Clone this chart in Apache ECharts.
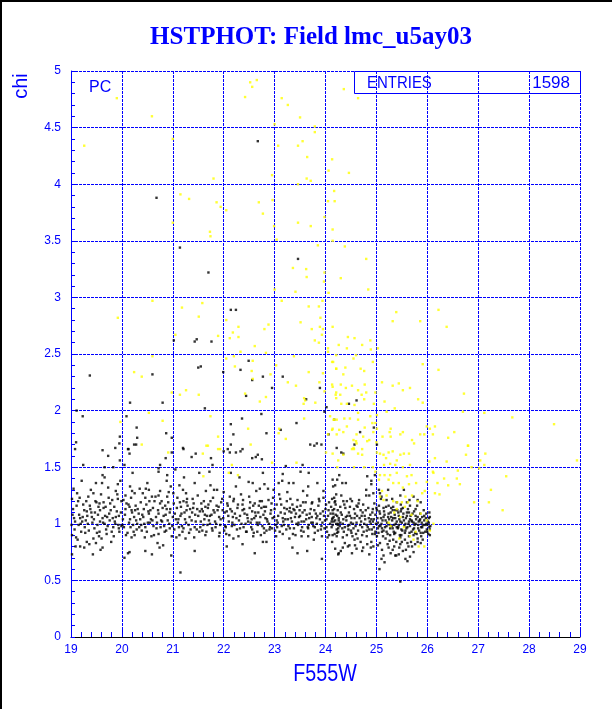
<!DOCTYPE html>
<html>
<head>
<meta charset="utf-8">
<script src="https://cdn.jsdelivr.net/npm/echarts/dist/echarts.min.js"></script>
<style>
html,body{margin:0;padding:0;background:#fff;}
#chart{width:612px;height:709px;}
</style>
</head>
<body>
<div id="chart"></div>
<script>
// ---- Data (F555W magnitude, chi) ----
const titleText = 'HSTPHOT: Field lmc_u5ay03';
const xName = 'F555W';
const yName = 'chi';
const entriesLabel = 'ENTRIES';
const entriesValue = '1598';
const xTicks = [19, 20, 21, 22, 23, 24, 25, 26, 27, 28, 29];
const yTicks = [0, 0.5, 1, 1.5, 2, 2.5, 3, 3.5, 4, 4.5, 5];

const blackBand = [
[19.62,1.43],[19.66,1.41],[20.21,1.45],[20.72,1.46],[20.89,1.43],[21.05,1.48],[21.22,1.41],[21.52,1.45],[21.72,1.46],[22.14,1.45],[22.31,1.41],[22.77,1.45],[23.16,1.44],[23.67,1.45],[23.51,1.46],
[19.39,1.30],[19.49,1.36],[19.61,1.36],[19.73,1.32],[19.88,1.29],[19.92,1.35],[20.16,1.33],[20.20,1.29],[20.41,1.27],[20.50,1.36],[20.53,1.30],[20.75,1.29],[20.88,1.38],[21.13,1.34],[21.26,1.27],[21.43,1.36],[21.74,1.34],[21.81,1.30],[22.24,1.33],[22.49,1.37],[22.57,1.36],[22.71,1.31],[22.80,1.35],[22.98,1.30],[23.08,1.36],[23.15,1.38],[23.28,1.36],[23.37,1.36],[23.56,1.29],[23.66,1.33],[23.84,1.36],[23.96,1.29],[24.15,1.33],[24.23,1.39],
[19.02,1.22],[19.14,1.20],[19.26,1.12],[19.37,1.16],[19.50,1.19],[19.56,1.18],[19.64,1.14],[19.77,1.18],[19.92,1.22],[19.99,1.20],[20.07,1.25],[20.15,1.15],[20.26,1.12],[20.46,1.23],[20.59,1.24],[20.72,1.25],[20.75,1.18],[20.89,1.24],[21.01,1.27],[21.14,1.19],[21.21,1.20],[21.27,1.19],[21.40,1.14],[21.57,1.13],[21.64,1.15],[21.74,1.20],[21.86,1.16],[21.97,1.22],[22.08,1.16],[22.19,1.20],[22.37,1.17],[22.52,1.19],[22.61,1.18],[22.71,1.20],[22.79,1.15],[22.94,1.18],[23.11,1.22],[23.24,1.20],[23.30,1.14],[23.37,1.13],[23.49,1.12],[23.56,1.19],[23.73,1.18],[23.87,1.22],[24.01,1.17],[24.13,1.22],[24.19,1.20],
[19.06,1.05],[19.18,1.05],[19.31,1.11],[19.41,1.06],[19.45,1.04],[19.57,1.12],[19.62,1.05],[19.71,1.06],[19.82,1.05],[19.88,1.06],[20.07,1.13],[20.19,1.12],[20.24,1.06],[20.36,1.04],[20.43,1.13],[20.53,1.09],[20.60,1.03],[20.72,1.09],[20.88,1.13],[20.94,1.10],[21.06,1.04],[21.15,1.07],[21.27,1.12],[21.38,1.10],[21.48,1.13],[21.59,1.11],[21.67,1.07],[21.80,1.12],[21.91,1.06],[22.02,1.10],[22.16,1.11],[22.25,1.05],[22.37,1.12],[22.46,1.08],[22.56,1.11],[22.63,1.07],[22.74,1.14],[22.82,1.05],[22.92,1.09],[23.04,1.03],[23.16,1.05],[23.24,1.13],[23.33,1.10],[23.39,1.12],[23.50,1.07],[23.63,1.08],[23.73,1.06],[23.84,1.07],[23.97,1.07],[24.06,1.12],[24.14,1.05],[24.26,1.03],
[19.01,0.99],[19.15,0.99],[19.22,1.02],[19.33,1.00],[19.52,0.99],[19.66,1.00],[19.83,0.97],[19.94,0.96],[19.99,0.98],[20.17,0.97],[20.30,1.00],[20.46,0.97],[20.55,1.01],[20.68,0.96],[20.79,1.02],[20.94,0.96],[21.12,0.97],[21.21,0.96],[21.31,0.99],[21.43,0.97],[21.60,0.99],[21.73,1.00],[21.84,0.97],[22.03,0.98],[22.16,0.98],[22.32,0.96],[22.43,1.00],[22.54,0.97],[22.67,0.99],[22.79,0.96],[22.90,0.95],[23.05,0.97],[23.18,0.99],[23.30,0.96],[23.43,1.00],[23.54,0.97],[23.67,0.99],[23.79,0.97],[23.91,0.95],[24.02,0.97],[24.14,0.99],[24.25,0.96],
[19.02,0.90],[19.10,0.88],[19.28,0.92],[19.44,0.87],[19.56,0.93],[19.70,0.91],[19.84,0.89],[19.95,0.93],[20.19,0.88],[20.25,0.90],[20.39,0.94],[20.58,0.89],[20.72,0.91],[20.84,0.93],[20.98,0.89],[21.13,0.90],[21.25,0.87],[21.42,0.88],[21.52,0.93],[21.64,0.90],[21.78,0.94],[21.91,0.89],[22.05,0.91],[22.19,0.87],[22.29,0.89],[22.45,0.93],[22.58,0.89],[22.73,0.90],[22.84,0.94],[23.03,0.89],[23.16,0.91],[23.29,0.87],[23.41,0.90],[23.53,0.89],[23.66,0.89],[23.79,0.92],[23.93,0.89],[24.07,0.90],[24.22,0.89],
[19.02,0.73],[19.09,0.80],[19.18,0.80],[19.26,0.79],[19.31,0.84],[19.43,0.73],[19.49,0.83],[19.58,0.77],[19.62,0.79],[20.05,0.70],[20.12,0.74],[20.15,0.75],[20.46,0.76],[20.59,0.73],[20.74,0.79],[20.81,0.81],[20.97,0.72],[21.43,0.76],[22.06,0.80],[22.37,0.82],[22.61,0.74],[22.77,0.84],[22.84,0.84],[23.35,0.79],[23.45,0.74],[23.64,0.76],[23.93,0.69],[24.26,0.74],[21.15,0.57]
];

const blackBandExtra = [
[19.04,1.13],[19.07,0.95],[19.12,1.27],[19.16,1.08],[19.20,0.93],[19.24,1.17],[19.29,1.03],[19.34,1.24],[19.36,0.82],[19.40,1.10],[19.46,0.96],[19.48,1.20],[19.53,1.08],[19.55,0.89],[19.59,1.26],[19.63,1.01],[19.68,1.15],[19.72,0.98],[19.75,1.09],[19.79,0.84],[19.81,1.21],[19.86,1.02],[19.90,1.11],[19.93,0.99],[19.97,1.38],[20.02,1.04],[20.04,0.97],[20.09,1.18],[20.11,0.92],[20.14,1.01],[20.18,1.23],[20.22,0.99],[20.27,1.16],[20.29,0.95],[20.33,1.09],[20.35,1.31],[20.38,0.99],[20.42,1.06],[20.45,0.88],[20.48,1.17],[20.51,1.01],[20.56,1.12],[20.62,0.98],[20.64,1.20],[20.67,1.06],[20.70,0.83],[20.77,1.03],[20.80,1.14],[20.83,0.98],[20.86,1.08],[20.91,1.19],[20.93,1.00],[20.96,1.33],[21.00,1.06],[21.03,0.95],[21.08,1.14],[21.10,1.01],[21.17,1.09],[21.19,0.93],[21.24,1.04],[21.29,1.16],[21.33,1.06],[21.35,0.95],[21.39,1.22],[21.45,1.02],[21.50,1.07],[21.54,0.97],[21.56,1.18],[21.62,1.04],[21.66,0.93],[21.69,1.14],[21.71,1.03],[21.76,1.08],[21.83,1.02],[21.88,1.12],[21.93,0.99],[21.95,1.19],[21.99,1.05],[22.01,0.94],[22.06,1.11],[22.10,1.02],[22.12,1.24],[22.18,1.06],[22.21,0.99],[22.27,1.14],[22.30,1.03],[22.34,1.26],[22.39,0.97],[22.41,1.09],[22.48,1.02],[22.51,1.14],[22.55,1.04],[22.59,0.92],[22.62,1.10],[22.65,1.01],[22.69,1.16],[22.72,1.06],[22.76,0.98],[22.81,1.11],[22.86,1.02],[22.88,1.21],[22.91,0.97],[22.96,1.05],[23.00,1.13],[23.02,0.99],[23.07,1.07],[23.10,0.93],[23.13,1.17],[23.17,1.02],[23.20,1.09],[23.23,0.95],[23.26,1.04],[23.31,1.22],[23.34,1.02],[23.36,0.91],[23.40,1.06],[23.44,1.15],[23.47,1.01],[23.52,0.94],[23.55,1.10],[23.58,1.02],[23.61,1.19],[23.65,0.97],[23.68,1.05],[23.71,1.13],[23.75,1.01],[23.77,0.86],[23.81,1.09],[23.83,1.00],[23.86,1.16],[23.89,1.04],[23.92,0.98],[23.95,1.11],[23.99,1.03],[24.03,0.93],[24.05,1.07],[24.09,1.00],[24.11,1.15],[24.16,1.02],[24.18,0.91],[24.20,1.08],[24.24,0.99]
];

const blackBandDense = [
[19.03,1.08],[19.05,1.31],[19.08,1.02],[19.11,1.16],[19.13,0.86],[19.17,1.23],[19.19,1.00],[19.21,1.38],[19.23,1.06],[19.27,0.97],[19.30,1.20],[19.32,1.07],[19.35,0.94],[19.38,1.13],[19.42,1.01],[19.44,1.27],[19.47,1.10],[19.51,0.92],[19.54,1.15],[19.57,1.02],[19.60,0.87],[19.64,1.19],[19.67,1.07],[19.69,0.95],[19.74,1.23],[19.76,1.03],[19.78,1.12],[19.80,0.93],[19.85,1.15],[19.87,1.00],[19.91,1.26],[19.94,1.07],[19.98,1.10],[20.01,0.99],[20.03,1.21],[20.06,1.08],[20.08,0.90],[20.13,1.17],[20.16,1.04],[20.20,1.10],[20.23,0.93],[20.25,1.27],[20.28,1.03],[20.31,1.13],[20.34,0.97],[20.37,1.19],[20.40,1.08],[20.44,1.00],[20.47,1.31],[20.49,0.93],[20.52,1.11],[20.54,1.20],[20.57,1.04],[20.61,1.14],[20.63,0.90],[20.66,1.24],[20.69,1.01],[20.71,1.12],[20.76,0.97],[20.78,1.20],[20.82,1.07],[20.85,1.16],[20.87,0.94],[20.90,1.03],[20.92,1.28],[20.95,1.13],[20.99,0.98],[21.02,1.18],[21.04,1.09],[21.07,0.88],[21.09,1.23],[21.11,1.04],[21.16,1.15],[21.18,0.98],[21.20,1.30],[21.23,1.10],[21.26,1.01],[21.28,1.22],[21.32,0.92],[21.34,1.13],[21.37,1.03],[21.41,1.18],[21.44,1.08],[21.47,0.95],[21.49,1.25],[21.53,1.11],[21.55,1.02],[21.58,0.94],[21.61,1.20],[21.63,1.08],[21.65,1.29],[21.68,0.99],[21.70,1.17],[21.73,1.07],[21.77,0.96],[21.79,1.23],[21.82,1.10],[21.85,1.00],[21.87,1.30],[21.90,1.15],[21.92,0.92],[21.94,1.04],[21.98,1.12],[22.00,1.28],[22.04,0.97],[22.07,1.18],[22.09,1.07],[22.11,0.90],[22.13,1.13],[22.17,1.01],[22.20,1.22],[22.22,1.09],[22.26,0.95],[22.28,1.17],[22.32,1.07],[22.35,1.00],[22.38,1.21],[22.40,1.13],[22.44,0.93],[22.47,1.05],[22.50,1.24],[22.53,1.01],[22.56,0.95],[22.58,1.16],[22.60,1.05],[22.64,1.29],[22.66,0.93],[22.68,1.10],[22.70,1.01],[22.75,1.20],[22.78,1.08],[22.80,0.92],[22.83,1.15],[22.85,1.04],[22.87,1.31],[22.89,1.00],[22.93,1.12],[22.95,0.96],[22.97,1.23],[22.99,1.06],[23.01,0.94],[23.04,1.17],[23.06,1.01],[23.09,1.26],[23.12,1.10],[23.14,0.98],[23.19,1.14],[23.21,1.04],[23.25,1.28],[23.27,0.98],[23.29,1.11],[23.32,1.05],[23.35,1.17],[23.38,0.96],[23.42,1.09],[23.45,1.21],[23.46,0.99],[23.48,1.06],[23.51,1.16],[23.53,1.02],[23.57,0.93],[23.59,1.12],[23.62,1.04],[23.64,1.25],[23.66,0.96],[23.69,1.09],[23.72,1.01],[23.74,1.19],[23.76,0.98],[23.78,1.12],[23.82,1.05],[23.85,0.94],[23.88,1.20],[23.90,1.09],[23.94,1.01],[23.96,1.23],[23.98,0.96],[24.00,1.13],[24.02,1.04],[24.04,0.88],[24.07,1.19],[24.10,1.09],[24.12,0.97],[24.17,1.13],[24.19,1.03],[24.21,1.26],[24.23,1.07],[24.25,0.93]
];

const blackCluster = [
[24.27,1.43],[24.14,1.39],[24.19,1.34],[24.33,1.36],[24.40,1.36],[24.90,1.35],[24.80,1.30],[24.94,1.27],[25.05,1.30],[25.07,1.27],[25.23,1.30],[24.82,1.42],[24.97,1.43],[24.90,1.38],
[24.18,1.19],[24.35,1.20],[24.42,1.20],[24.52,1.20],[24.65,1.18],[24.80,1.25],[24.86,1.25],[24.31,1.25],[24.17,1.23],[25.10,1.24],[25.20,1.21],[25.31,1.22],[25.40,1.19],[25.47,1.25],[25.60,1.19],[25.73,1.24],[25.81,1.21],[25.87,1.19],[25.77,1.13],[25.66,1.16],[25.49,1.13],[25.33,1.15],[25.24,1.16],[25.14,1.14],[25.05,1.16],[24.93,1.13],[24.74,1.17],[24.61,1.16],[24.48,1.15],[24.29,1.15],[24.14,1.12],[25.54,1.30],[25.65,1.21],
[24.16,1.06],[24.26,1.05],[24.35,1.04],[24.40,1.06],[24.48,1.07],[24.57,1.05],[24.69,1.12],[24.77,1.07],[24.85,1.05],[24.90,1.04],[24.98,1.08],[25.07,1.09],[25.14,1.06],[25.24,1.09],[25.29,1.06],[25.37,1.05],[25.44,1.07],[25.52,1.06],[25.60,1.10],[25.69,1.03],[25.77,1.07],[25.86,1.04],[25.94,1.07],[26.03,1.05],[26.05,1.06],[25.48,1.11],[25.32,1.12],[25.01,1.12],[24.67,1.05],
[24.12,1.02],[24.21,1.00],[24.29,1.01],[24.38,0.97],[24.47,0.99],[24.55,0.96],[24.61,1.01],[24.72,0.97],[24.81,0.99],[24.89,1.00],[24.95,0.97],[25.03,0.96],[25.10,1.00],[25.20,0.98],[25.27,0.96],[25.35,0.99],[25.43,0.97],[25.49,0.95],[25.57,1.00],[25.66,0.98],[25.74,0.96],[25.82,0.99],[25.90,0.97],[25.98,1.00],[26.04,0.97],[26.06,0.98],[25.14,0.94],[24.50,0.94],[24.33,0.96],[24.86,0.95],[25.40,1.02],[25.64,1.02],
[24.14,0.90],[24.23,0.92],[24.34,0.88],[24.42,0.90],[24.51,0.92],[24.63,0.87],[24.72,0.90],[24.81,0.89],[24.92,0.91],[25.01,0.89],[25.11,0.93],[25.18,0.87],[25.27,0.90],[25.37,0.92],[25.47,0.88],[25.56,0.92],[25.64,0.89],[25.73,0.90],[25.81,0.87],[25.88,0.89],[26.00,0.93],[26.05,0.90],[24.98,0.93],[24.57,0.86],[25.33,0.86],
[24.19,0.78],[24.25,0.73],[24.34,0.79],[24.44,0.80],[24.52,0.74],[24.61,0.78],[24.74,0.79],[24.86,0.73],[24.89,0.79],[24.94,0.80],[25.24,0.79],[25.32,0.77],[25.37,0.72],[25.52,0.76],[25.57,0.69],[25.66,0.71],[25.39,0.72],[25.10,0.69],[24.38,0.83],[24.69,0.84],[25.07,0.83],[25.47,0.82],[25.70,0.80],[25.81,0.84],[25.91,0.86],[25.61,0.83],[24.82,0.82],[24.13,0.84],
[25.16,0.66],[25.06,0.60],[25.47,0.49],[25.61,0.67],[25.44,0.73]
];

const blackClusterExtra = [
[24.15,1.09],[24.22,0.95],[24.24,1.12],[24.28,0.98],[24.32,1.08],[24.36,0.93],[24.39,1.14],[24.41,1.03],[24.45,0.95],[24.46,1.10],[24.50,1.01],[24.53,0.89],[24.56,1.13],[24.59,0.98],[24.62,1.07],[24.64,0.94],[24.66,1.21],[24.70,1.02],[24.73,1.10],[24.75,0.93],[24.78,1.04],[24.83,0.97],[24.84,1.14],[24.88,1.08],[24.91,0.95],[24.93,1.02],[24.96,1.18],[24.99,1.00],[25.02,1.05],[25.04,0.92],[25.06,1.11],[25.08,0.98],[25.09,1.22],[25.12,1.03],[25.13,0.89],[25.16,1.08],[25.17,0.97],[25.19,1.15],[25.21,1.01],[25.22,0.91],[25.25,1.04],[25.26,0.85],[25.28,1.10],[25.30,0.98],[25.31,1.03],[25.34,0.93],[25.36,1.08],[25.38,1.00],[25.39,0.84],[25.41,1.12],[25.42,0.96],[25.45,1.04],[25.46,0.90],[25.48,1.17],[25.50,1.01],[25.51,0.94],[25.53,1.09],[25.55,0.98],[25.56,0.86],[25.58,1.05],[25.59,0.96],[25.62,1.13],[25.63,1.00],[25.65,0.92],[25.67,1.07],[25.68,0.84],[25.70,1.02],[25.72,0.95],[25.74,1.11],[25.75,0.99],[25.78,1.04],[25.79,0.91],[25.80,1.16],[25.83,1.02],[25.84,0.94],[25.86,1.09],[25.88,0.97],[25.89,1.01],[25.92,0.92],[25.93,1.12],[25.95,0.99],[25.97,1.05],[25.99,0.95],[26.01,1.02],[26.02,0.91],[26.04,1.10],[25.11,0.77],[25.28,0.74],[25.45,0.79],[25.58,0.77],[25.76,0.82],[24.72,0.76],[24.47,0.81],[24.30,0.76],[25.03,0.81],[25.87,0.83],
[24.13,1.04],[24.20,1.17],[24.25,1.00],[24.30,1.10],[24.34,1.00],[24.37,1.17],[24.43,1.07],[24.44,0.98],[24.49,1.22],[24.51,1.05],[24.54,1.00],[24.58,1.09],[24.60,0.91],[24.63,1.15],[24.68,0.99],[24.71,1.07],[24.76,1.00],[24.79,1.12],[24.81,0.94],[24.87,1.02],[24.92,1.10],[24.95,1.04],[24.97,0.91],[25.00,1.14],[25.03,1.01],[25.05,0.98],[25.09,1.05],[25.11,0.96],[25.15,1.11],[25.18,1.03],[25.20,0.93],[25.23,1.06],[25.26,0.99],[25.29,1.14],[25.32,0.96],[25.33,1.05],[25.35,0.91],[25.37,1.12],[25.40,0.97],[25.43,1.10],[25.44,0.99],[25.47,1.02],[25.49,0.90],[25.52,1.14],[25.54,1.03],[25.57,0.94],[25.60,1.07],[25.61,0.97],[25.64,1.10],[25.66,1.04],[25.69,0.93],[25.71,1.09],[25.73,1.01],[25.76,0.92],[25.77,1.00],[25.81,1.06],[25.82,0.96],[25.85,1.03],[25.87,0.92],[25.90,1.06],[25.91,0.99],[25.94,1.03],[25.96,0.93],[25.98,1.09],[26.00,0.99],[26.03,1.01],[26.05,0.95],[25.22,0.82],[25.35,0.80],[25.50,0.84],[25.63,0.80],[24.90,0.84],[24.58,0.81],[25.14,0.72],[25.73,0.75]
];

const blackSparse = [
[22.67,4.38],[20.68,3.88],[21.14,3.44],[23.46,3.34],
[21.70,3.22],[22.14,2.89],[22.24,2.89],[21.02,2.62],[21.43,2.61],[21.47,2.63],[21.76,2.61],[22.49,2.44],[21.55,2.39],[21.50,2.38],[21.99,2.34],[22.33,2.36],[19.37,2.31],[20.60,2.32],[22.77,2.30],[22.56,2.27],[23.16,2.30],[22.95,2.20],[23.89,2.20],[22.44,2.13],[23.62,2.10],[20.16,2.07],[20.80,2.07],[21.63,2.02],[19.11,2.00],[24.02,2.03],[23.98,1.99],[19.23,1.95],[20.09,1.95],[22.36,1.93],[22.74,1.97],[22.14,1.88],[23.43,1.89],[20.29,1.85],[24.17,1.92],[23.12,1.83],[20.87,1.80],[22.19,1.79],[22.84,1.80],[19.96,1.77],[20.30,1.76],[24.06,1.79],[20.98,1.76],[19.10,1.72],[19.95,1.71],[20.28,1.70],[22.14,1.70],[23.83,1.71],[23.92,1.70],[19.87,1.67],[19.08,1.66],[20.12,1.66],[21.21,1.66],[22.08,1.66],[22.37,1.66],
[19.62,1.65],[19.73,1.60],[19.96,1.56],[20.13,1.66],[20.15,1.62],[20.24,1.70],[20.05,1.52],[19.24,1.52],[19.66,1.50],[19.83,1.50],[20.75,1.52],[20.72,1.49],[20.86,1.58],[20.98,1.63],[21.20,1.67],[21.37,1.59],[21.45,1.62],[21.75,1.58],[21.78,1.52],[22.00,1.64],[22.12,1.63],[22.24,1.63],[22.33,1.64],[22.56,1.58],[22.63,1.59],[22.67,1.61],[22.75,1.57],[23.22,1.51],[23.55,1.52],[23.70,1.70],[23.78,1.69],[24.22,1.67],
[24.61,2.09],[24.46,2.06],[24.68,1.81],[24.95,1.85],[24.57,1.70],[25.01,1.70],[24.31,1.63],[24.35,1.62]
];

const yellowHigh = [
[19.90,4.76],[20.59,4.60],[19.26,4.34],[21.00,4.40],[22.52,4.90],[22.65,4.92],[22.56,4.86],[22.42,4.77],[23.14,4.76],[23.26,4.70],[23.50,4.59],[23.00,4.53],[23.79,4.51],[23.79,4.46],[23.55,4.38],[23.07,4.34],[23.46,4.34],[23.64,4.24],[24.13,4.22],[24.06,4.12],[22.95,4.08],[21.80,4.05],[23.63,4.05],[23.71,4.03],[23.46,4.00],[21.15,3.91],[21.32,3.87],[21.86,3.84],[21.94,3.80],[22.05,3.77],[22.69,3.84],[22.96,3.86],[22.77,3.74],[24.17,3.94],[24.05,3.85],[24.18,3.85],[21.00,3.66],[21.73,3.58],[21.74,3.54],[22.99,3.63],[23.46,3.66],[23.71,3.63],[23.98,3.71],[24.14,3.60],[23.04,3.51],[24.14,3.50],[23.85,3.46],
[24.36,4.84],[24.64,4.76],[24.46,4.10],[24.38,3.45],[24.80,3.34]
];

const yellowMid = [
[23.36,3.26],[23.63,3.18],[23.62,3.25],[23.98,3.22],[23.97,3.14],[23.00,3.07],[23.41,3.05],[24.06,3.04],[20.60,2.97],[23.14,2.97],[23.94,2.97],[21.18,2.91],[21.58,2.95],[23.67,2.92],[23.87,2.92],[19.92,2.82],[21.51,2.83],[22.05,2.80],[23.90,2.82],[23.51,2.78],[22.88,2.76],[22.29,2.74],[22.80,2.72],[23.73,2.72],[23.89,2.74],[23.95,2.72],[22.18,2.69],[23.93,2.67],[21.89,2.66],[22.12,2.64],[22.29,2.65],[21.05,2.67],[23.79,2.62],[23.87,2.60],[22.61,2.57],[24.05,2.55],[24.05,2.52],[22.33,2.52],[22.83,2.51],[20.60,2.48],[22.05,2.46],[22.20,2.48],[23.38,2.48],[22.57,2.44],[24.15,2.43],[22.22,2.39],[23.03,2.40],[24.21,2.37],[22.55,2.35],[22.92,2.32],[23.67,2.34],[23.95,2.33],[20.24,2.34],[20.39,2.30],[22.57,2.28],[23.26,2.25],[23.88,2.25],[24.14,2.21],[21.26,2.18],[23.42,2.22],[23.98,2.17],[24.20,2.14],[24.21,2.11],[20.98,2.16],[21.14,2.14],[21.51,2.14],[22.42,2.15],[22.83,2.12],[23.58,2.11],[23.60,2.09],[22.71,2.08],[23.80,2.07],[23.57,2.06],[20.53,1.98],[21.74,1.95],[23.58,1.93],[24.09,1.95],[24.17,1.92],[19.97,1.90],[20.80,1.91],[22.48,1.84],[23.09,1.84],[23.08,1.80],[24.14,1.84],[24.22,1.79],[21.89,1.77],[23.22,1.75],[22.53,1.70],[20.39,1.70],[21.66,1.69],[21.89,1.66],[24.05,1.79],
[20.91,1.63],[21.59,1.62],[21.69,1.69],[21.93,1.66],[22.95,1.54],[22.16,1.52],[22.28,1.43],[22.10,1.45],[21.60,1.42],[23.43,1.54],[24.01,1.63],
[24.30,3.17],[24.84,3.07],[26.22,2.89],[25.39,2.87],[25.32,2.79],[25.86,2.79],[26.38,2.74],[24.14,2.74],[24.44,2.65],[24.57,2.64],[24.88,2.62],[24.26,2.58],[24.72,2.58],[24.42,2.55],[24.89,2.54],[25.03,2.55],[24.21,2.49],[24.60,2.49],[24.55,2.46],[24.13,2.43],[24.93,2.43],[25.91,2.41],[24.21,2.37],[24.39,2.38],[24.69,2.37],[26.22,2.36],[24.76,2.35],[24.35,2.32],[24.13,2.23],[24.30,2.23],[24.52,2.22],[24.77,2.23],[25.11,2.25],[25.32,2.22],[25.44,2.24],[24.40,2.20],[25.66,2.20],[24.21,2.16],[24.64,2.18],[24.80,2.16],[24.98,2.16],[25.52,2.18],[24.29,2.14],[24.71,2.14],[26.72,2.15],[25.82,2.10],[24.76,2.10],[25.16,2.08],[25.91,2.07],[24.31,2.06],[24.42,2.06],[24.57,2.05],[24.95,2.06],[25.36,2.02],[26.70,1.99],[27.12,1.98],[25.20,1.99],[24.64,1.98],[27.67,1.94],[28.49,1.88],[25.99,1.86],[26.15,1.86],[25.28,1.84],[26.05,1.84],[25.52,1.81],[26.53,1.81],[25.86,1.79],[25.94,1.79],[26.11,1.79],[25.47,1.79],[25.26,1.81],[25.12,1.77],[25.28,1.77],[26.41,1.76],[25.70,1.74],[25.74,1.71],[26.80,1.69],
[24.16,1.92],[24.22,1.92],[24.37,1.93],[24.48,1.93],[24.88,1.95],[25.01,1.96],[24.13,1.83],[24.27,1.83],[24.35,1.81],[24.61,1.79],[24.74,1.77],[24.94,1.81],[24.86,1.74],[24.55,1.74],[24.61,1.71],[24.52,1.66],[24.56,1.66],[24.72,1.66],[24.92,1.89],[24.98,1.89],[24.42,1.86],[24.64,1.92],[24.77,1.85],[25.01,1.84]
];

const yellowCluster = [
[24.14,1.62],[24.25,1.56],[24.35,1.61],[24.55,1.67],[24.64,1.62],[24.72,1.61],[24.60,1.73],[24.82,1.73],[25.00,1.72],[25.01,1.63],[25.07,1.62],[25.14,1.61],[25.19,1.58],[25.24,1.63],[25.32,1.64],[25.40,1.56],[25.47,1.61],[25.54,1.62],[25.64,1.62],[25.66,1.52],[25.52,1.50],[25.37,1.52],[25.27,1.53],[25.15,1.52],[24.93,1.50],[24.76,1.50],[24.56,1.50],[24.23,1.50],
[25.69,1.43],[25.60,1.42],[25.40,1.45],[25.27,1.43],[25.16,1.43],[25.07,1.43],[24.98,1.46],[25.05,1.39],[25.24,1.39],[25.33,1.36],[25.44,1.36],[25.52,1.32],[25.64,1.35],[25.78,1.36],[25.99,1.37],[26.11,1.46],[26.20,1.36],[26.33,1.40],[26.41,1.34],[26.58,1.40],[26.64,1.35],[26.60,1.47],[26.87,1.50],[26.76,1.61],[26.04,1.55],[25.95,1.29],[26.24,1.26],[26.15,1.27],[26.12,1.45],[26.15,1.58],[26.38,1.55],[25.90,1.27],
[25.70,1.25],[25.57,1.24],[25.62,1.19],[25.50,1.19],[25.41,1.19],[25.33,1.20],[25.20,1.25],[25.07,1.24],[25.11,1.29],[25.40,1.13],[25.56,1.15],[25.81,1.20],[25.87,1.09],[25.69,1.08],[25.47,1.06],[25.35,1.10],[25.24,1.01],[25.54,0.97],[25.66,0.89],[25.45,0.87],[25.83,0.80],[25.94,0.80],[25.73,0.86],[25.77,0.93],[26.05,0.94],[26.12,1.00],[25.99,1.03],[25.28,0.98],[25.14,1.21],
[26.80,1.69],[27.14,1.62],[27.12,1.52],[27.04,1.56],[27.02,1.49],[27.25,1.30],[27.55,1.42],[27.21,1.19],[26.92,1.19],[27.48,1.12],[28.94,1.56]
];

const blackPoints = blackBand.concat(blackBandExtra, blackBandDense, blackCluster, blackClusterExtra, blackSparse);
const yellowPoints = yellowHigh.concat(yellowMid, yellowCluster);

// ---- Chart ----
const BLUE = '#0000ff';
const chart = echarts.init(document.getElementById('chart'), null, {renderer: 'canvas'});
const textStyle = (font, align, valign, fill) => ({
  font: font, fill: fill || BLUE,
  align: align, textAlign: align,
  verticalAlign: valign, textVerticalAlign: valign
});

const option = {
  animation: false,
  backgroundColor: '#ffffff',
  grid: {left: 71, right: 32, top: 71, bottom: 72, containLabel: false},
  xAxis: {
    type: 'value', min: xTicks[0], max: xTicks[xTicks.length - 1], interval: 1,
    axisLine: {show: true, onZero: false, lineStyle: {color: '#000000', width: 1}},
    axisTick: {show: true, inside: true, length: 9, lineStyle: {color: BLUE, width: 1}},
    minorTick: {show: true, splitNumber: 5, length: 5, lineStyle: {color: BLUE, width: 1}},
    axisLabel: {color: BLUE, fontSize: 12, fontFamily: '"Liberation Sans", Arial, sans-serif', margin: 7},
    splitLine: {show: true, lineStyle: {color: BLUE, width: 1, type: [3, 1]}}
  },
  yAxis: {
    type: 'value', min: yTicks[0], max: yTicks[yTicks.length - 1], interval: 0.5,
    axisLine: {show: true, onZero: false, lineStyle: {color: BLUE, width: 1}},
    axisTick: {show: true, inside: true, length: 4, lineStyle: {color: BLUE, width: 1}},
    minorTick: {show: true, splitNumber: 5, length: 4, lineStyle: {color: BLUE, width: 1}},
    axisLabel: {color: BLUE, fontSize: 12, fontFamily: '"Liberation Sans", Arial, sans-serif', margin: 10},
    splitLine: {show: true, lineStyle: {color: BLUE, width: 1, type: [3, 1]}}
  },
  series: [
    {type: 'scatter', data: blackPoints, symbol: 'rect', symbolSize: 2.4,
     itemStyle: {color: '#000000'}, silent: true, z: 3},
    {type: 'scatter', data: yellowPoints, symbol: 'rect', symbolSize: 2.4,
     itemStyle: {color: '#ffff00'}, silent: true, z: 4}
  ],
  graphic: [
    {type: 'rect', z: 100, shape: {x: 0, y: 0, width: 2, height: 709}, style: {fill: '#000000'}},
    {type: 'rect', z: 100, shape: {x: 0, y: 0, width: 612, height: 2}, style: {fill: '#000000'}},
    {type: 'text', z: 100, x: 311, y: 38,
     style: textStyle('bold 25px "Liberation Serif", "Times New Roman", serif', 'center', 'middle')},
    {type: 'text', z: 100, x: 21, y: 86, rotation: Math.PI / 2,
     style: textStyle('20px "Liberation Sans", Arial, sans-serif', 'center', 'middle')},
    {type: 'text', z: 100, x: 325, y: 674, scaleX: 0.82,
     style: textStyle('24px "Liberation Sans", Arial, sans-serif', 'center', 'middle')},
    {type: 'rect', z: 100, shape: {x: 354.5, y: 71.5, width: 226, height: 22},
     style: {fill: 'none', stroke: BLUE, lineWidth: 1}},
    {type: 'text', z: 100, x: 367, y: 83, scaleX: 0.88,
     style: textStyle('17px "Liberation Sans", Arial, sans-serif', 'left', 'middle')},
    {type: 'text', z: 100, x: 570, y: 83,
     style: textStyle('17px "Liberation Sans", Arial, sans-serif', 'right', 'middle')},
    {type: 'text', z: 100, x: 89, y: 88,
     style: textStyle('16px "Liberation Sans", Arial, sans-serif', 'left', 'middle')}
  ]
};
option.graphic[2].style.text = titleText;
option.graphic[3].style.text = yName;
option.graphic[4].style.text = xName;
option.graphic[6].style.text = entriesLabel;
option.graphic[7].style.text = entriesValue;
option.graphic[8].style.text = 'PC';
chart.setOption(option);
</script>
</body>
</html>
